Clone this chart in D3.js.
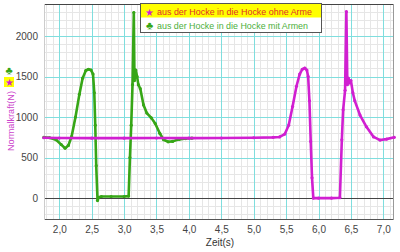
<!DOCTYPE html>
<html>
<head>
<meta charset="utf-8">
<script src="https://cdn.jsdelivr.net/npm/d3@7"></script>
<style>
  body { margin: 0; background: #fff; }
  svg { display: block; font-family: "Liberation Sans", Arial, sans-serif; }
</style>
</head>
<body>
<div id="chart"></div>
<script>
// series: aus der Hocke in die Hocke ohne Arme (magenta)
const ohneZeit = [1.76, 2.0, 2.5, 3.0, 3.5, 4.0, 4.5, 5.0, 5.3, 5.40, 5.48, 5.54, 5.60, 5.66, 5.71, 5.75, 5.79, 5.82, 5.84, 5.86, 5.88, 5.90, 5.92, 6.0, 6.2, 6.33, 6.36, 6.38, 6.41, 6.43, 6.445, 6.46, 6.48, 6.50, 6.53, 6.56, 6.64, 6.74, 6.85, 6.95, 7.05, 7.17];
const ohneKraft = [745, 742, 740, 740, 742, 740, 742, 745, 750, 755, 790, 900, 1130, 1380, 1530, 1590, 1605, 1580, 1500, 1200, 700, 250, 0, 0, 0, 5, 720, 1090, 1330, 2300, 1400, 1480, 1420, 1450, 1300, 1200, 1025, 880, 755, 716, 728, 750];

// series: aus der Hocke in die Hocke mit Armen (green)
const mitZeit = [1.76, 1.85, 1.95, 2.03, 2.09, 2.14, 2.19, 2.25, 2.31, 2.36, 2.41, 2.45, 2.49, 2.52, 2.54, 2.555, 2.57, 2.59, 2.61, 2.65, 2.8, 3.0, 3.07, 3.09, 3.11, 3.13, 3.15, 3.16, 3.18, 3.20, 3.22, 3.25, 3.30, 3.35, 3.42, 3.48, 3.55, 3.61, 3.68, 3.75, 3.85, 3.95, 4.05];
const mitKraft = [750, 745, 720, 660, 615, 650, 760, 1000, 1280, 1480, 1575, 1590, 1580, 1530, 1300, 900, 400, -30, 10, 20, 20, 20, 25, 500, 900, 1400, 2290, 1450, 1580, 1500, 1400, 1350, 1150, 1050, 990, 920, 800, 720, 695, 700, 725, 735, 740];

const xTicks = [2.0, 2.5, 3.0, 3.5, 4.0, 4.5, 5.0, 5.5, 6.0, 6.5, 7.0];
const yTicks = [0, 500, 1000, 1500, 2000];
const legendLabels = ["aus der Hocke in die Hocke ohne Arme", "aus der Hocke in die Hocke mit Armen"];

const W = 400, H = 252;
const margin = { top: 4, right: 6, bottom: 32, left: 44 };
const width = W - margin.left - margin.right;
const height = H - margin.top - margin.bottom;

const svg = d3.select("#chart").append("svg")
    .attr("width", W)
    .attr("height", H);

const g = svg.append("g")
    .attr("transform", `translate(${margin.left},${margin.top})`);

const xScale = d3.scaleLinear().domain([1.764, 7.165]).range([0, width]);
const yScale = d3.scaleLinear().domain([-270, 2395]).range([height, 0]);

// minor grid
const xMinor = d3.range(1.8, 7.15, 0.1);
const yMinor = d3.range(-200, 2400, 100);
g.append("g").selectAll("line").data(xMinor).enter().append("line")
    .attr("x1", d => Math.round(xScale(d)) + 0.5).attr("x2", d => Math.round(xScale(d)) + 0.5)
    .attr("y1", 0).attr("y2", height)
    .attr("stroke", "#e6e6e6");
g.append("g").selectAll("line").data(yMinor).enter().append("line")
    .attr("y1", d => Math.round(yScale(d)) + 0.5).attr("y2", d => Math.round(yScale(d)) + 0.5)
    .attr("x1", 0).attr("x2", width)
    .attr("stroke", "#e6e6e6");

// major grid
g.append("g").selectAll("line").data(xTicks).enter().append("line")
    .attr("x1", d => Math.round(xScale(d)) + 0.5).attr("x2", d => Math.round(xScale(d)) + 0.5)
    .attr("y1", 0).attr("y2", height)
    .attr("stroke", "#7fdede");
g.append("g").selectAll("line").data(yTicks.filter(d => d > 0)).enter().append("line")
    .attr("y1", d => Math.round(yScale(d)) + 0.5).attr("y2", d => Math.round(yScale(d)) + 0.5)
    .attr("x1", 0).attr("x2", width)
    .attr("stroke", "#7fdede");

// zero line
g.append("line")
    .attr("x1", 0).attr("x2", width)
    .attr("y1", Math.round(yScale(0)) + 0.5).attr("y2", Math.round(yScale(0)) + 0.5)
    .attr("stroke", "#444");

// frame
g.append("line").attr("x1", 0).attr("x2", width).attr("y1", 0.5).attr("y2", 0.5).attr("stroke", "#444");
g.append("line").attr("x1", 0).attr("x2", width).attr("y1", height - 0.5).attr("y2", height - 0.5).attr("stroke", "#555");
g.append("line").attr("x1", 0.5).attr("x2", 0.5).attr("y1", 0).attr("y2", height).attr("stroke", "#ccc");
g.append("line").attr("x1", width - 0.5).attr("x2", width - 0.5).attr("y1", 0).attr("y2", height).attr("stroke", "#999");

// axes (labels only)
const xAxis = d3.axisBottom(xScale).tickValues(xTicks).tickSize(0).tickPadding(6)
    .tickFormat(d => d3.format(".1f")(d).replace(".", ","));
const yAxis = d3.axisLeft(yScale).tickValues(yTicks).tickSize(0).tickPadding(6)
    .tickFormat(d3.format("d"));

g.append("g").attr("class", "x-axis")
    .attr("transform", `translate(0,${height})`)
    .call(xAxis)
    .call(a => a.select(".domain").remove())
    .selectAll("text").attr("font-size", "10px").attr("fill", "#444")
    .attr("font-family", "Liberation Sans, Arial, sans-serif");

g.append("g").attr("class", "y-axis")
    .call(yAxis)
    .call(a => a.select(".domain").remove())
    .selectAll("text").attr("font-size", "10px").attr("fill", "#444")
    .attr("font-family", "Liberation Sans, Arial, sans-serif");

// series
const line = d3.line().x(d => xScale(d[0])).y(d => yScale(d[1]));
const series = [
    { name: legendLabels[1], pts: d3.zip(mitZeit, mitKraft), color: "#36a616" },
    { name: legendLabels[0], pts: d3.zip(ohneZeit, ohneKraft), color: "#d11fd1" }
];
series.forEach(s => {
    g.append("path")
        .datum(s.pts)
        .attr("d", line)
        .attr("fill", "none")
        .attr("stroke", s.color)
        .attr("stroke-width", 2.6)
        .attr("stroke-linejoin", "round");
    g.append("g").selectAll("circle").data(s.pts).enter().append("circle")
        .attr("cx", d => xScale(d[0]))
        .attr("cy", d => yScale(d[1]))
        .attr("r", 1.6)
        .attr("fill", s.color);
});

// axis titles
svg.append("text")
    .attr("x", 220).attr("y", 246)
    .attr("text-anchor", "middle")
    .attr("font-size", "10px").attr("fill", "#333")
    .text("Zeit(s)");

const yl = svg.append("g").attr("transform", "translate(10,0)");
yl.append("text")
    .attr("transform", "translate(3.5,121) rotate(-90)")
    .attr("text-anchor", "middle")
    .attr("font-size", "9px").attr("fill", "#cc44cc")
    .attr("textLength", 60).attr("lengthAdjust", "spacingAndGlyphs")
    .text("Normalkraft(N)");
yl.append("rect").attr("x", -6).attr("y", 77).attr("width", 10).attr("height", 10).attr("fill", "#ffff00");
yl.append("text").attr("x", -1).attr("y", 86).attr("text-anchor", "middle")
    .attr("font-size", "10px").attr("fill", "#d11fd1").text("\u2605");
yl.append("text").attr("x", -1).attr("y", 74).attr("text-anchor", "middle")
    .attr("font-size", "11px").attr("fill", "#36a616").text("\u2663");

// legend
const lg = svg.append("g").attr("transform", "translate(140,3)");
lg.append("rect").attr("x", 0.5).attr("y", 0.5).attr("width", 181).attr("height", 29)
    .attr("fill", "#fff").attr("stroke", "#555");
lg.append("rect").attr("x", 1).attr("y", 1).attr("width", 180).attr("height", 13.5).attr("fill", "#ffff00");
lg.append("text").attr("x", 9.5).attr("y", 12.5).attr("text-anchor", "middle")
    .attr("font-size", "10px").attr("fill", "#d11fd1").text("\u2605");
lg.append("text").attr("x", 17).attr("y", 11.5)
    .attr("font-size", "9.5px").attr("fill", "#e0302a")
    .attr("textLength", 155).attr("lengthAdjust", "spacingAndGlyphs")
    .text(legendLabels[0]);
lg.append("text").attr("x", 9.5).attr("y", 26).attr("text-anchor", "middle")
    .attr("font-size", "11px").attr("fill", "#36a616").text("\u2663");
lg.append("text").attr("x", 17).attr("y", 25.5)
    .attr("font-size", "9.5px").attr("fill", "#4caf3c")
    .attr("textLength", 151).attr("lengthAdjust", "spacingAndGlyphs")
    .text(legendLabels[1]);
</script>
</body>
</html>
